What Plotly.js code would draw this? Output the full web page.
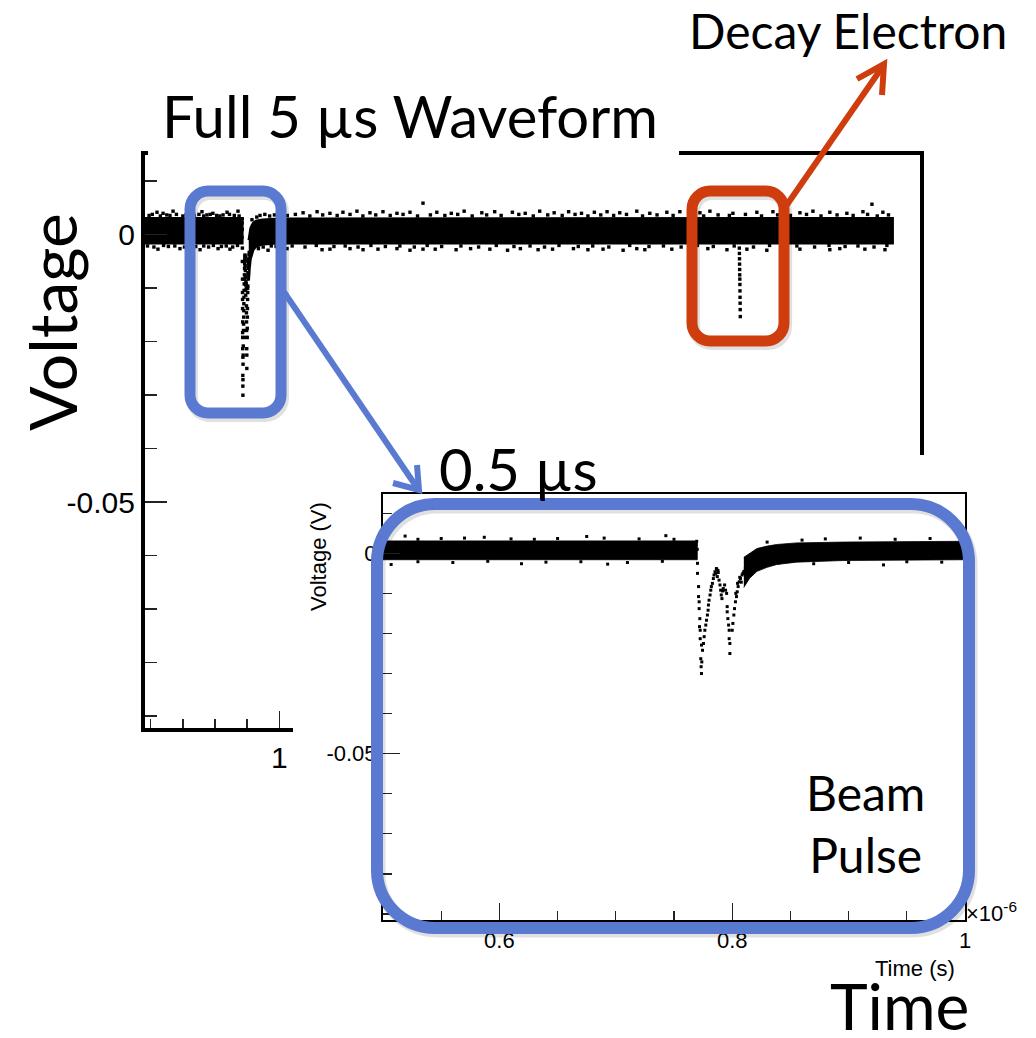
<!DOCTYPE html>
<html><head><meta charset="utf-8">
<script src="https://cdn.plot.ly/plotly-3.0.1.min.js"></script>
<style>html,body{margin:0;padding:0;background:#fff}</style>
</head><body><div id="chart" style="width:1036px;height:1038px"></div>
<script>
// ---------- data (time in microseconds, voltage in volts) ----------
const bandATime  = [0.1645, 0.7700];
const bandAUpper = [0.0031, 0.0031];
const bandALower = [-0.0016, -0.0016];

const bandBTime  = [0.8100, 0.8150, 0.8213, 0.8300, 0.8383, 0.8553, 0.8953, 1.0000, 4.8160];
const bandBUpper = [-0.0010, 0.0000, 0.0012, 0.0018, 0.0022, 0.0026, 0.0028, 0.0030, 0.0031];
const bandBLower = [-0.0085, -0.0062, -0.0045, -0.0035, -0.0028, -0.0022, -0.0018, -0.0016, -0.0016];

const beamTime = [0.7702,0.7702,0.7711,0.7711,0.7716,0.7716,0.7722,0.7719,0.7725,0.7725,0.7736,0.7730,0.7739,0.7733,0.7736,
  0.7745,0.7753,0.7759,0.7765,0.7773,0.7779,0.7787,0.7793,0.7796,0.7801,0.7810,0.7816,0.7821,0.7830,0.7838,0.7844,0.7852,0.7867,0.7878,
  0.7858,0.7872,0.7887,0.7895,0.7901,0.7906,0.7912,0.7923,0.7935,0.7943,0.7952,
  0.7957,0.7957,0.7963,0.7969,0.7974,0.7974,0.7980,0.7980,
  0.8000,0.8006,0.8014,0.8020,0.8028,0.8037,0.8043,0.8051,0.8060,0.8071,0.8085,0.8099,0.8113,0.8128,
  0.7700,0.7690,0.7680,0.7695,0.7864,0.7880,0.7918,0.8031,0.8046,0.8065,0.8078,0.8092,0.8106];
const beamVolt = [-0.0025,-0.0050,-0.0083,-0.0108,-0.0121,-0.0138,-0.0163,-0.0183,-0.0192,-0.0213,-0.0229,-0.0263,-0.0271,-0.0283,-0.0300,
  -0.0242,-0.0225,-0.0208,-0.0192,-0.0179,-0.0167,-0.0154,-0.0142,-0.0129,-0.0117,-0.0104,-0.0092,-0.0083,-0.0075,-0.0063,-0.0054,-0.0046,-0.0040,-0.0043,
  -0.0050,-0.0058,-0.0067,-0.0079,-0.0092,-0.0104,-0.0113,-0.0088,-0.0079,-0.0092,-0.0100,
  -0.0133,-0.0146,-0.0163,-0.0179,-0.0192,-0.0213,-0.0225,-0.0250,
  -0.0192,-0.0175,-0.0154,-0.0138,-0.0121,-0.0108,-0.0096,-0.0083,-0.0071,-0.0063,-0.0054,-0.0046,-0.0038,-0.0033,
  0.0010,0.0022,-0.0005,0.0030,-0.0038,-0.0048,-0.0094,-0.0100,-0.0075,-0.0060,-0.0072,-0.0050,-0.0045];

const decayTime = [3.8620,3.8625,3.8630,3.8635,3.8640,3.8645,3.8650,3.8655,3.8660,3.8665,3.8670,3.8675,3.8680];
const decayVolt = [-0.0025,-0.0035,-0.0045,-0.0055,-0.0065,-0.0075,-0.0083,-0.0093,-0.0105,-0.0117,-0.0128,-0.0140,-0.0153];

const noiseHighTime = [0.239,0.277,0.339,0.444,0.519,0.587,0.675,0.743,1.148,1.235,1.315,1.396,1.483,1.564,1.645,1.732,1.813,1.894,
  1.98,2.07,2.15,2.26,2.34,2.45,2.53,2.62,2.71,2.80,2.88,2.96,
  3.039,3.118,3.224,3.305,3.411,3.492,3.617,3.679,3.822,3.971,4.071,4.239,4.320,4.425,4.531,4.631,4.687,4.755];
const noiseHighVolt = [0.0042,0.0040,0.0044,0.0041,0.0043,0.0040,0.0042,0.0044,0.0041,0.0043,0.0040,0.0042,0.0044,0.0041,0.0043,0.0040,0.0042,0.0059,
  0.0042,0.0040,0.0044,0.0041,0.0043,0.0042,0.0040,0.0044,0.0041,0.0043,0.0040,0.0042,
  0.0043,0.0041,0.0044,0.0040,0.0042,0.0043,0.0041,0.0044,0.0040,0.0042,0.0043,0.0041,0.0044,0.0042,0.0040,0.0043,0.0057,0.0042];
const noiseLowTime = [0.245,0.382,0.507,0.619,0.693,0.930,1.048,1.266,1.315,1.440,1.521,1.614,1.732,1.813,1.894,
  1.97,2.10,2.19,2.31,2.42,2.50,2.61,2.70,2.83,2.92,
  3.014,3.139,3.224,3.274,3.442,3.666,3.785,3.909,4.033,4.158,4.239,4.425,4.487,4.643,4.768];
const noiseLowVolt = [-0.0027,-0.0026,-0.0028,-0.0026,-0.0027,-0.0029,-0.0026,-0.0028,-0.0027,-0.0026,-0.0028,-0.0027,-0.0026,-0.0029,-0.0027,
  -0.0027,-0.0028,-0.0026,-0.0027,-0.0029,-0.0026,-0.0028,-0.0027,-0.0026,-0.0028,
  -0.0027,-0.0029,-0.0026,-0.0028,-0.0027,-0.0026,-0.0028,-0.0027,-0.0029,-0.0026,-0.0027,-0.0028,-0.0026,-0.0027,-0.0028];
// dots hugging the band edges (ragged rim of the noise band)
const edgeHighTime = [0.19,0.21,0.26,0.30,0.32,0.36,0.40,0.42,0.47,0.50,0.53,0.55,0.57,0.61,0.63,0.65,0.69,0.72,0.75,0.83,0.86,0.88,0.91,0.94,0.97,
  1.05,1.10,1.19,1.27,1.36,1.44,1.52,1.60,1.69,1.77,1.86,1.94,2.03,2.11,2.20,2.29,2.38,2.49,2.58,2.67,2.76,2.84,2.92,
  3.00,3.08,3.16,3.26,3.35,3.45,3.55,3.64,3.73,3.80,3.90,4.00,4.10,4.18,4.28,4.37,4.47,4.57,4.66,4.72,4.79];
const edgeHighVolt = [0.0036,0.0038,0.0035,0.0037,0.0036,0.0038,0.0035,0.0037,0.0036,0.0038,0.0035,0.0037,0.0038,0.0036,0.0035,0.0037,0.0038,0.0036,0.0035,0.0028,0.0033,0.0036,0.0038,0.0035,0.0037,
  0.0036,0.0038,0.0035,0.0037,0.0036,0.0038,0.0035,0.0037,0.0036,0.0038,0.0035,0.0037,0.0036,0.0038,0.0035,0.0037,0.0036,0.0038,0.0035,0.0037,0.0036,0.0038,0.0035,
  0.0037,0.0036,0.0038,0.0035,0.0037,0.0036,0.0038,0.0035,0.0037,0.0036,0.0038,0.0035,0.0037,0.0036,0.0038,0.0035,0.0037,0.0036,0.0038,0.0035,0.0037];
const edgeLowTime = [0.18,0.22,0.28,0.31,0.35,0.41,0.45,0.48,0.53,0.56,0.59,0.64,0.67,0.71,0.74,0.84,0.87,0.90,0.95,0.98,
  1.08,1.16,1.23,1.34,1.41,1.49,1.57,1.66,1.75,1.84,1.92,2.01,2.13,2.24,2.35,2.46,2.56,2.65,2.74,2.86,2.95,
  3.05,3.18,3.30,3.39,3.50,3.60,3.70,3.83,3.95,4.05,4.13,4.22,4.33,4.42,4.52,4.60,4.70,4.78];
const edgeLowVolt = [-0.0021,-0.0023,-0.0020,-0.0022,-0.0021,-0.0023,-0.0020,-0.0022,-0.0021,-0.0023,-0.0020,-0.0022,-0.0021,-0.0023,-0.0020,-0.0024,-0.0026,-0.0023,-0.0021,-0.0022,
  -0.0021,-0.0023,-0.0020,-0.0022,-0.0021,-0.0023,-0.0020,-0.0022,-0.0021,-0.0023,-0.0020,-0.0022,-0.0021,-0.0023,-0.0020,-0.0022,-0.0021,-0.0023,-0.0020,-0.0022,-0.0021,
  -0.0023,-0.0020,-0.0022,-0.0021,-0.0023,-0.0020,-0.0022,-0.0021,-0.0023,-0.0020,-0.0022,-0.0021,-0.0023,-0.0020,-0.0022,-0.0021,-0.0023,-0.0020];

// tick definitions
const mainXTickVals = [1, 2, 3, 4];
const mainXTickText = ['1', '2', '3', '4'];
const mainXMinorVals = [0.2,0.4,0.6,0.8,1.2,1.4,1.6,1.8,2.2,2.4,2.6,2.8,3.2,3.4,3.6,3.8,4.2,4.4,4.6,4.8];
const yTickVals = [-0.05, 0];
const yTickText = ['-0.05', '0'];
const yMinorVals = [-0.09,-0.08,-0.07,-0.06,-0.04,-0.03,-0.02,-0.01,0.01];
const insetXTickVals = [0.6, 0.8, 1.0];
const insetXTickText = ['0.6', '0.8', '1'];
const insetXMinorVals = [0.55,0.65,0.7,0.75,0.85,0.9,0.95];

// ---------- helpers for decoration geometry (pixel -> paper) ----------
const W = 1036, H = 1038;
const PX = v => (v / W).toFixed(5);
const PY = v => (1 - v / H).toFixed(5);
function roundRect(x0, y0, x1, y1, r) {
  const k = r * 0.4477;
  return `M ${PX(x0 + r)},${PY(y0)} L ${PX(x1 - r)},${PY(y0)} ` +
    `C ${PX(x1 - k)},${PY(y0)} ${PX(x1)},${PY(y0 + k)} ${PX(x1)},${PY(y0 + r)} ` +
    `L ${PX(x1)},${PY(y1 - r)} C ${PX(x1)},${PY(y1 - k)} ${PX(x1 - k)},${PY(y1)} ${PX(x1 - r)},${PY(y1)} ` +
    `L ${PX(x0 + r)},${PY(y1)} C ${PX(x0 + k)},${PY(y1)} ${PX(x0)},${PY(y1 - k)} ${PX(x0)},${PY(y1 - r)} ` +
    `L ${PX(x0)},${PY(y0 + r)} C ${PX(x0)},${PY(y0 + k)} ${PX(x0 + k)},${PY(y0)} ${PX(x0 + r)},${PY(y0)} Z`;
}
function polyline(pts) {
  return pts.map((p, i) => (i ? 'L ' : 'M ') + PX(p[0]) + ',' + PY(p[1])).join(' ');
}
function bandPoly(t, up, lo) {
  return { x: t.concat(t.slice().reverse()), y: up.concat(lo.slice().reverse()) };
}

const BLUE = 'rgb(90,121,208)';
const RED = 'rgb(207,60,14)';

function plotTraces(xa, ya, msize, lw) {
  const a = bandPoly(bandATime, bandAUpper, bandALower);
  const b = bandPoly(bandBTime, bandBUpper, bandBLower);
  const base = { xaxis: xa, yaxis: ya, hoverinfo: 'skip', showlegend: false };
  const mk = { symbol: 'square', size: msize, color: 'black', line: { width: 0 } };
  return [
    Object.assign({ type: 'scatter', mode: 'lines', x: a.x, y: a.y, fill: 'toself', fillcolor: 'black', line: { color: 'black', width: lw } }, base),
    Object.assign({ type: 'scatter', mode: 'lines', x: b.x, y: b.y, fill: 'toself', fillcolor: 'black', line: { color: 'black', width: lw } }, base),
    Object.assign({ type: 'scatter', mode: 'markers', x: beamTime, y: beamVolt, marker: mk }, base),
    Object.assign({ type: 'scatter', mode: 'markers', x: decayTime, y: decayVolt, marker: mk }, base),
    Object.assign({ type: 'scatter', mode: 'markers', x: noiseHighTime.concat(noiseLowTime), y: noiseHighVolt.concat(noiseLowVolt), marker: mk }, base),
    Object.assign({ type: 'scatter', mode: 'markers', x: edgeHighTime.concat(edgeLowTime), y: edgeHighVolt.concat(edgeLowVolt), marker: mk }, base)
  ];
}

const traces = []
  .concat(plotTraces('x', 'y', 3.4, 2.5))
  .concat([{ type: 'scatter', x: [], y: [], xaxis: 'x2', yaxis: 'y2', showlegend: false, hoverinfo: 'skip' }])
  .concat(plotTraces('x3', 'y3', 3, 0.8));

const tickFontBig = { family: 'Liberation Sans, Arial, sans-serif', size: 30, color: 'black' };
const tickFontSmall = { family: 'Liberation Sans, Arial, sans-serif', size: 22, color: 'black' };
const bigFont = (s) => ({ family: 'Lato, "Open Sans", sans-serif', size: s, color: 'black' });

const layout = {
  width: W, height: H,
  margin: { l: 0, r: 0, t: 0, b: 0, pad: 0 },
  paper_bgcolor: 'white', plot_bgcolor: 'white',
  showlegend: false,
  xaxis: {
    domain: [145 / W, 920 / W], range: [0.1645, 4.986], anchor: 'y',
    showline: true, linewidth: 4, linecolor: 'black', mirror: true,
    ticks: 'inside', ticklen: 17, tickwidth: 1.5, tickcolor: '#222',
    tickmode: 'array', tickvals: mainXTickVals, ticktext: mainXTickText,
    minor: { tickmode: 'array', tickvals: mainXMinorVals, ticks: 'inside', ticklen: 9, tickwidth: 1.5, tickcolor: '#222' },
    showgrid: false, zeroline: false, tickfont: tickFontBig, fixedrange: true
  },
  yaxis: {
    domain: [1 - 728 / H, 1 - 155 / H], range: [-0.0922, 0.0149], anchor: 'x',
    showline: true, linewidth: 4, linecolor: 'black', mirror: true,
    ticks: 'inside', ticklen: 22, tickwidth: 1.5, tickcolor: '#222',
    tickmode: 'array', tickvals: yTickVals, ticktext: yTickText,
    minor: { tickmode: 'array', tickvals: yMinorVals, ticks: 'inside', ticklen: 12, tickwidth: 1.5, tickcolor: '#222' },
    showgrid: false, zeroline: false, tickfont: tickFontBig, fixedrange: true
  },
  xaxis2: { domain: [293 / W, 1], range: [0, 1], anchor: 'y2', visible: false, showgrid: false, zeroline: false, fixedrange: true },
  yaxis2: { domain: [0, 1 - 455 / H], range: [0, 1], anchor: 'x2', visible: false, showgrid: false, zeroline: false, fixedrange: true },
  xaxis3: {
    domain: [383 / W, 965 / W], range: [0.5, 1.0], anchor: 'y3',
    showline: true, linewidth: 2, linecolor: 'black', mirror: true,
    ticks: 'inside', ticklen: 17, tickwidth: 1.2, tickcolor: '#222',
    tickmode: 'array', tickvals: insetXTickVals, ticktext: insetXTickText,
    minor: { tickmode: 'array', tickvals: insetXMinorVals, ticks: 'inside', ticklen: 9, tickwidth: 1.2, tickcolor: '#222' },
    showgrid: false, zeroline: false, tickfont: tickFontSmall, fixedrange: true
  },
  yaxis3: {
    domain: [1 - 920 / H, 1 - 494 / H], range: [-0.0915, 0.0148], anchor: 'x3',
    showline: true, linewidth: 2, linecolor: 'black', mirror: true,
    ticks: 'inside', ticklen: 17, tickwidth: 1.2, tickcolor: '#222',
    tickmode: 'array', tickvals: yTickVals, ticktext: yTickText,
    minor: { tickmode: 'array', tickvals: yMinorVals, ticks: 'inside', ticklen: 9, tickwidth: 1.2, tickcolor: '#222' },
    showgrid: false, zeroline: false, tickfont: tickFontSmall, fixedrange: true
  },
  shapes: [
    { type: 'rect', xref: 'paper', yref: 'paper', x0: 148 / W, x1: 679 / W, y0: 1 - 159 / H, y1: 1 - 140 / H, fillcolor: 'white', line: { width: 0 }, layer: 'above' },
    { type: 'path', xref: 'paper', yref: 'paper', path: roundRect(192, 194, 283, 416, 18), line: { color: 'rgba(0,0,0,0.12)', width: 12 }, layer: 'above' },
    { type: 'path', xref: 'paper', yref: 'paper', path: roundRect(694, 194, 786, 344, 18), line: { color: 'rgba(0,0,0,0.12)', width: 12 }, layer: 'above' },
    { type: 'path', xref: 'paper', yref: 'paper', path: roundRect(379, 507, 971, 931, 58), line: { color: 'rgba(0,0,0,0.12)', width: 13 }, layer: 'above' },
    { type: 'path', xref: 'paper', yref: 'paper', path: roundRect(190, 191, 281, 413, 18), line: { color: BLUE, width: 11 }, layer: 'above' },
    { type: 'path', xref: 'paper', yref: 'paper', path: roundRect(692, 191, 784, 341, 18), line: { color: RED, width: 11 }, layer: 'above' },
    { type: 'path', xref: 'paper', yref: 'paper', path: roundRect(377, 504, 969, 928, 58), line: { color: BLUE, width: 12 }, layer: 'above' },
    { type: 'path', xref: 'paper', yref: 'paper', path: polyline([[284, 292], [418, 489]]), line: { color: BLUE, width: 6 }, layer: 'above' },
    { type: 'path', xref: 'paper', yref: 'paper', path: polyline([[417, 465], [419, 490], [393, 483]]), line: { color: BLUE, width: 6 }, layer: 'above' },
    { type: 'path', xref: 'paper', yref: 'paper', path: polyline([[784, 209], [883, 66]]), line: { color: RED, width: 6 }, layer: 'above' },
    { type: 'path', xref: 'paper', yref: 'paper', path: polyline([[857, 79], [884, 64], [882, 95]]), line: { color: RED, width: 6 }, layer: 'above' }
  ],
  annotations: [
    { text: 'Full 5 µs Waveform', xref: 'paper', yref: 'paper', x: 160 / W, y: 1 - 115 / H, xanchor: 'left', yanchor: 'middle', showarrow: false, font: bigFont(58) },
    { text: 'Decay Electron', xref: 'paper', yref: 'paper', x: 687 / W, y: 1 - 30 / H, xanchor: 'left', yanchor: 'middle', showarrow: false, font: bigFont(48) },
    { text: 'Voltage', xref: 'paper', yref: 'paper', x: 52 / W, y: 1 - 322 / H, xanchor: 'center', yanchor: 'middle', textangle: -90, showarrow: false, font: bigFont(66) },
    { text: 'Time', xref: 'paper', yref: 'paper', x: 899 / W, y: 1 - 1005 / H, xanchor: 'center', yanchor: 'middle', showarrow: false, font: bigFont(64) },
    { text: '0.5 µs', xref: 'paper', yref: 'paper', x: 518 / W, y: 1 - 468 / H, xanchor: 'center', yanchor: 'middle', showarrow: false, font: bigFont(58) },
    { text: 'Beam<br>Pulse', xref: 'paper', yref: 'paper', x: 865 / W, y: 1 - 823 / H, xanchor: 'center', yanchor: 'middle', align: 'center', showarrow: false, font: bigFont(48) },
    { text: 'Voltage (V)', xref: 'paper', yref: 'paper', x: 318 / W, y: 1 - 557 / H, xanchor: 'center', yanchor: 'middle', textangle: -90, showarrow: false, font: tickFontSmall },
    { text: 'Time (s)', xref: 'paper', yref: 'paper', x: 915 / W, y: 1 - 968 / H, xanchor: 'center', yanchor: 'middle', showarrow: false, font: tickFontSmall },
    { text: '×10<sup>-6</sup>', xref: 'paper', yref: 'paper', x: 964 / W, y: 1 - 912 / H, xanchor: 'left', yanchor: 'middle', showarrow: false, font: tickFontSmall }
  ]
};

Plotly.newPlot('chart', traces, layout, { staticPlot: true, displayModeBar: false });
</script>
</body></html>
